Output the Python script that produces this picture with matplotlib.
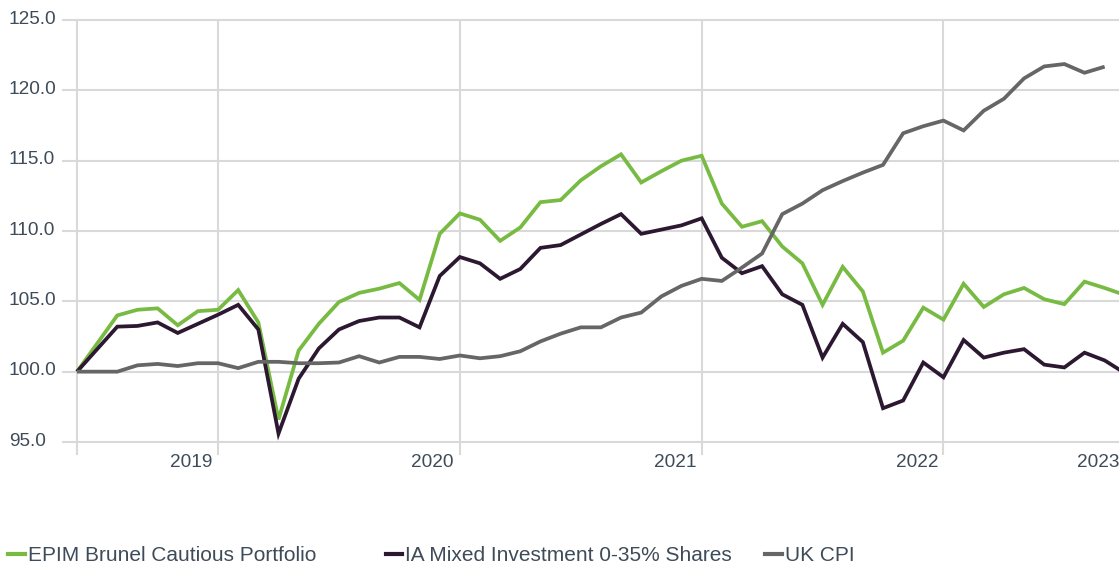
import numpy as np
import matplotlib
matplotlib.use("Agg")
import matplotlib.pyplot as plt
from matplotlib.lines import Line2D
from matplotlib.transforms import blended_transform_factory

plt.rcParams['font.family'] = ['Liberation Sans', 'DejaVu Sans']

# monthly index values, rebased to 100
epim = [100.0, 102.0, 104.0, 104.4, 104.5, 103.3, 104.3, 104.4, 105.8, 103.5,
        96.6, 101.5, 103.4, 104.95, 105.6, 105.9, 106.3, 105.1, 109.8, 111.25,
        110.8, 109.3, 110.25, 112.05, 112.2, 113.6, 114.6, 115.45, 113.45, 114.25,
        115.0, 115.35, 111.95, 110.3, 110.7, 108.9, 107.7, 104.75, 107.45, 105.7,
        101.35, 102.2, 104.55, 103.7, 106.25, 104.6, 105.5, 105.95, 105.15, 104.8,
        106.4, 105.95, 105.45]
ia_mixed = [100.0, 101.6, 103.2, 103.25, 103.5, 102.75, 103.4, 104.05, 104.75, 103.0,
            95.6, 99.5, 101.65, 103.0, 103.6, 103.85, 103.85, 103.15, 106.8, 108.15,
            107.7, 106.6, 107.3, 108.8, 109.0, 109.75, 110.5, 111.2, 109.8, 110.1,
            110.4, 110.9, 108.1, 107.0, 107.5, 105.5, 104.75, 101.0, 103.4, 102.1,
            97.4, 97.95, 100.65, 99.6, 102.25, 101.0, 101.35, 101.6, 100.5, 100.3,
            101.35, 100.8, 99.9]
uk_cpi = [100.0, 100.0, 100.0, 100.45, 100.55, 100.4, 100.6, 100.6, 100.25, 100.7,
          100.7, 100.6, 100.6, 100.65, 101.1, 100.65, 101.05, 101.05, 100.9, 101.15,
          100.95, 101.1, 101.45, 102.15, 102.7, 103.15, 103.15, 103.85, 104.2, 105.35,
          106.1, 106.6, 106.45, 107.4, 108.4, 111.2, 111.95, 112.9, 113.55, 114.15,
          114.7, 116.95, 117.45, 117.85, 117.15, 118.55, 119.4, 120.85, 121.7, 121.87,
          121.25, 121.68]

series_names = ["EPIM Brunel Cautious Portfolio", "IA Mixed Investment 0-35% Shares", "UK CPI"]
colors = ["#78bb43", "#2c1830", "#666666"]

year_labels = ["2019", "2020", "2021", "2022", "2023"]
year_label_pos = [5.67, 17.65, 29.67, 41.7, 50.7]
grid_months = [0, 7, 19, 31, 43]
y_ticks = [95, 100, 105, 110, 115, 120, 125]

text_col = "#3e4b58"
grid_col = "#d9d9d9"

W, H = 1119, 566
fig = plt.figure(figsize=(W / 100, H / 100), dpi=100)
ax = fig.add_axes([62 / W, (H - 444.8) / H, (W - 62) / W, (444.8 - 17.2) / H])
ax.set_xlim(-15 / 20.15, (W - 77) / 20.15)
ax.set_ylim(94.8, 125.2)
ax.axis("off")

for yv in y_ticks:
    ax.axhline(yv, color=grid_col, lw=1.5, zorder=1)
ax.vlines(grid_months, 95 - 13 / 14.067, 125, color=grid_col, lw=1.5, zorder=1, clip_on=False)

for data, c in zip([epim, ia_mixed, uk_cpi], colors):
    ax.plot(np.arange(len(data)), data, color=c, lw=2.7, zorder=3,
            solid_joinstyle="miter", solid_capstyle="butt")

# y labels, left aligned at the figure edge
tr = blended_transform_factory(fig.transFigure, ax.transData)
for yv in y_ticks:
    ax.text(9 / W, yv + 0.05, f"{yv:.1f}", transform=tr, ha="left", va="center",
            fontsize=13.7, color=text_col)

for lab, xp in zip(year_labels, year_label_pos):
    ax.text(xp, 95 - 21 / 14.067, lab, ha="center", va="center", fontsize=13.7,
            color=text_col, clip_on=False)

# legend along the bottom (nudged up a little so descenders fit)
leg_marker_x = [(8, 25), (386, 402), (765, 782)]
leg_text_x = [28, 405, 785]
for name, c, (x0, x1), tx in zip(series_names, colors, leg_marker_x, leg_text_x):
    fig.add_artist(Line2D([x0 / W, x1 / W], [(H - 553.5) / H] * 2, color=c, lw=3,
                          transform=fig.transFigure))
    fig.text(tx / W, (H - 561) / H, name, ha="left", va="baseline", fontsize=15,
             color=text_col)

fig.savefig("out.png", dpi=100)
